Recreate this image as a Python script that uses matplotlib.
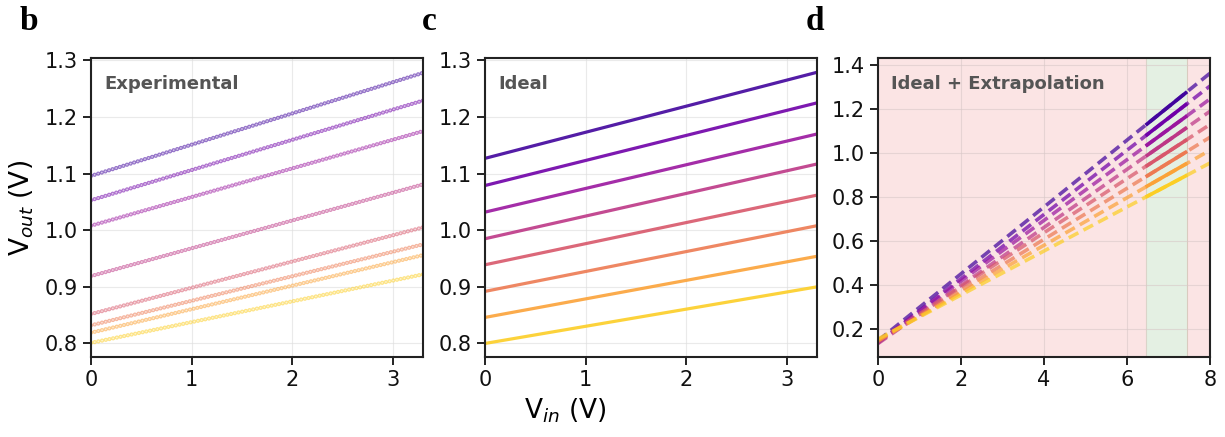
import numpy as np
import matplotlib
matplotlib.use("Agg")
import matplotlib.pyplot as plt

# ---------------- data ----------------
# Panel b (experimental): Vout at Vin = 0 and Vin = 3.3
vin_exp = [0.0, 3.3]
exp_start = [1.096, 1.053, 1.008, 0.919, 0.852, 0.832, 0.819, 0.801]
exp_end = [1.278, 1.229, 1.175, 1.081, 1.005, 0.975, 0.956, 0.922]

# Panel c (ideal)
vin_ideal = [0.0, 3.3]
ideal_start = [1.127, 1.079, 1.032, 0.985, 0.939, 0.892, 0.846, 0.800]
ideal_end = [1.279, 1.225, 1.170, 1.117, 1.062, 1.008, 0.954, 0.900]

# Panel d (ideal + extrapolation)
x_extra = [0.0, 8.0]
extra_at0 = [0.147, 0.137, 0.142, 0.134, 0.146, 0.144, 0.149, 0.155]
extra_at8 = [1.363, 1.305, 1.246, 1.190, 1.130, 1.072, 1.013, 0.955]
x_valid = [6.45, 7.45]
valid_start = [1.127, 1.079, 1.032, 0.985, 0.939, 0.892, 0.846, 0.800]
valid_end = [1.279, 1.225, 1.170, 1.117, 1.062, 1.008, 0.954, 0.900]

b_yticks = [0.8, 0.9, 1.0, 1.1, 1.2, 1.3]
b_xticks = [0, 1, 2, 3]
d_xticks = [0, 2, 4, 6, 8]
d_yticks = [0.2, 0.4, 0.6, 0.8, 1.0, 1.2, 1.4]

# ---------------- style ----------------
plt.rcParams['font.family'] = ['DejaVu Sans']
n = len(ideal_start)
colors = plt.cm.plasma(np.linspace(0.1, 0.9, n))

fig = plt.figure(figsize=(12.25, 4.37), dpi=100)
W = 0.271
H = 0.684
bottom = 0.183
axb = fig.add_axes([0.0743, bottom, W, H])
axc = fig.add_axes([0.396, bottom, W, H])
axd = fig.add_axes([0.7167, bottom, W, H])


def style(ax):
    for s in ax.spines.values():
        s.set_linewidth(1.5)
        s.set_color('#222222')
    ax.tick_params(axis='both', which='major', direction='out', length=6,
                   width=1.3, labelsize=15, colors='#111111')
    ax.grid(True, color='#dddddd', linewidth=0.8, alpha=0.6)
    ax.set_axisbelow(True)


# Panel b : dense chain of hollow markers
period = 2.7  # points
for i in range(n):
    c = colors[i]
    axb.plot(vin_exp, [exp_start[i], exp_end[i]], color=c, alpha=0.55,
             lw=3.1, linestyle=(0, (0.01 / 3.1, period / 3.1)),
             dash_capstyle='round')
    axb.plot(vin_exp, [exp_start[i], exp_end[i]], color='white', alpha=0.6,
             lw=1.3, linestyle=(0, (0.01 / 1.3, period / 1.3)),
             dash_capstyle='round')
axb.set_xlim(0, 3.3)
axb.set_ylim(0.776, 1.304)
axb.set_xticks(b_xticks)
axb.set_yticks(b_yticks)
axb.set_yticklabels([f"{v:.1f}" for v in b_yticks])
style(axb)
axb.text(0.04, 0.915, "Experimental", transform=axb.transAxes, fontsize=13,
         fontweight='bold', color='#555555', va='center', ha='left')
axb.set_ylabel("V$_{out}$ (V)", fontsize=19, labelpad=6)

# Panel c
for i in range(n):
    axc.plot(vin_ideal, [ideal_start[i], ideal_end[i]], color=colors[i],
             lw=2.3, alpha=0.9, solid_capstyle='butt')
axc.set_xlim(0, 3.3)
axc.set_ylim(0.776, 1.304)
axc.set_xticks(b_xticks)
axc.set_yticks(b_yticks)
axc.set_yticklabels([f"{v:.1f}" for v in b_yticks])
style(axc)
axc.text(0.04, 0.915, "Ideal", transform=axc.transAxes, fontsize=13,
         fontweight='bold', color='#555555', va='center', ha='left')

# Panel d
axd.axvspan(0, x_valid[0], color='#f2a8a8', alpha=0.3, lw=0, zorder=0)
axd.axvspan(x_valid[1], 8, color='#f2a8a8', alpha=0.3, lw=0, zorder=0)
axd.axvspan(x_valid[0], x_valid[1], facecolor='#cfe5cc', alpha=0.55,
            edgecolor='#c8b8a8', lw=0.8, zorder=0)
for i in range(n):
    axd.plot(x_extra, [extra_at0[i], extra_at8[i]], color=colors[i], lw=2.6,
             alpha=0.72, linestyle=(0, (3.0, 1.6)), dash_capstyle='butt')
    axd.plot(x_valid, [valid_start[i], valid_end[i]], color=colors[i], lw=2.6,
             solid_capstyle='butt')
axd.set_xlim(0, 8)
axd.set_ylim(0.073, 1.432)
axd.set_xticks(d_xticks)
axd.set_yticks(d_yticks)
axd.set_yticklabels([f"{v:.1f}" for v in d_yticks])
style(axd)
axd.grid(True, color='#d8c8c8', linewidth=0.8, alpha=0.6)
axd.text(0.04, 0.915, "Ideal + Extrapolation", transform=axd.transAxes,
         fontsize=13, fontweight='bold', color='#555555', va='center', ha='left')

# Shared x label
fig.text(0.4615, 0.06, "V$_{in}$ (V)", fontsize=19, ha='center', va='center')

# Panel letters
for lbl, x in [("b", 0.016), ("c", 0.344), ("d", 0.658)]:
    fig.text(x, 0.95, lbl, fontsize=24, fontweight='bold',
             family=['Liberation Serif', 'DejaVu Serif'], ha='left', va='center')

fig.savefig("out.png", dpi=100)
